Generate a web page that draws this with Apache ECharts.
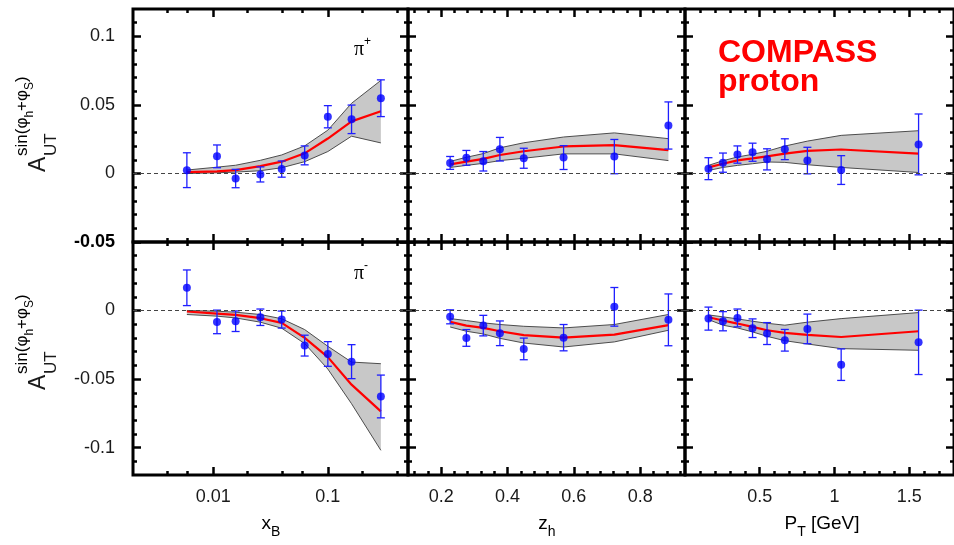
<!DOCTYPE html>
<html>
<head>
<meta charset="utf-8">
<script src="https://cdn.jsdelivr.net/npm/echarts@6/dist/echarts.min.js"></script>
<style>
  html, body { margin: 0; padding: 0; background: #ffffff; }
  #chart { width: 954px; height: 545px; }
</style>
</head>
<body>
<div id="chart"></div>
<script>
// ---- kinematic bins ----
const xB = [0.0059, 0.0108, 0.0157, 0.0258, 0.0396, 0.0628, 0.100, 0.161, 0.290];
const zh = [0.227, 0.276, 0.327, 0.377, 0.449, 0.569, 0.722, 0.885];
const pT = [0.157, 0.254, 0.351, 0.452, 0.549, 0.668, 0.819, 1.045, 1.563];

// ---- pi+ : measured asymmetry, uncertainty, model curve and band ----
const piPlusXB      = [0.0024, 0.0125, -0.0037, -0.0007, 0.0032, 0.0132, 0.0414, 0.0395, 0.0549];
const piPlusXBErr   = [0.0127, 0.0083, 0.0067, 0.0055, 0.0059, 0.0069, 0.0081, 0.0104, 0.0134];
const piPlusXBFit   = [0.0010, 0.0015, 0.0025, 0.0054, 0.0086, 0.0147, 0.0255, 0.0380, 0.0454];
const piPlusXBHi    = [0.0025, 0.0046, 0.0060, 0.0096, 0.0135, 0.0201, 0.0316, 0.0512, 0.0679];
const piPlusXBLo    = [0.0000, 0.0005, 0.0010, 0.0020, 0.0042, 0.0086, 0.0160, 0.0272, 0.0223];

const piPlusZ       = [0.0077, 0.0114, 0.0089, 0.0177, 0.0111, 0.0116, 0.0123, 0.0350];
const piPlusZErr    = [0.0047, 0.0054, 0.0071, 0.0086, 0.0073, 0.0087, 0.0125, 0.0172];
const piPlusZFit    = [0.0066, 0.0086, 0.0106, 0.0135, 0.0162, 0.0197, 0.0207, 0.0170];
const piPlusZHi     = [0.0088, 0.0118, 0.0145, 0.0187, 0.0224, 0.0266, 0.0296, 0.0254];
const piPlusZLo     = [0.0044, 0.0059, 0.0074, 0.0094, 0.0111, 0.0143, 0.0143, 0.0094];

const piPlusPT      = [0.0035, 0.0079, 0.0138, 0.0155, 0.0103, 0.0177, 0.0094, 0.0025, 0.0212];
const piPlusPTErr   = [0.0080, 0.0070, 0.0063, 0.0066, 0.0077, 0.0076, 0.0097, 0.0105, 0.0222];
const piPlusPTFit   = [0.0044, 0.0071, 0.0096, 0.0110, 0.0125, 0.0145, 0.0165, 0.0175, 0.0145];
const piPlusPTHi    = [0.0059, 0.0093, 0.0120, 0.0140, 0.0162, 0.0200, 0.0236, 0.0278, 0.0312];
const piPlusPTLo    = [0.0022, 0.0044, 0.0059, 0.0071, 0.0084, 0.0081, 0.0064, 0.0044, 0.0007];

// ---- pi- ----
const piMinusXB     = [0.0166, -0.0083, -0.0078, -0.0049, -0.0066, -0.0256, -0.0317, -0.0373, -0.0627];
const piMinusXBErr  = [0.0130, 0.0086, 0.0075, 0.0060, 0.0062, 0.0076, 0.0090, 0.0124, 0.0156];
const piMinusXBFit  = [-0.0007, -0.0022, -0.0032, -0.0056, -0.0090, -0.0200, -0.0340, -0.0541, -0.0736];
const piMinusXBHi   = [0.0000, -0.0005, -0.0012, -0.0029, -0.0060, -0.0139, -0.0261, -0.0376, -0.0388];
const piMinusXBLo   = [-0.0029, -0.0041, -0.0054, -0.0085, -0.0129, -0.0241, -0.0427, -0.0680, -0.1020];

const piMinusZ      = [-0.0046, -0.0200, -0.0110, -0.0166, -0.0280, -0.0198, 0.0027, -0.0068];
const piMinusZErr   = [0.0051, 0.0061, 0.0075, 0.0090, 0.0079, 0.0096, 0.0141, 0.0189];
const piMinusZFit   = [-0.0083, -0.0110, -0.0127, -0.0151, -0.0180, -0.0198, -0.0176, -0.0107];
const piMinusZHi    = [-0.0059, -0.0073, -0.0090, -0.0102, -0.0115, -0.0127, -0.0102, -0.0029];
const piMinusZLo    = [-0.0120, -0.0151, -0.0171, -0.0203, -0.0237, -0.0266, -0.0229, -0.0144];

const piMinusPT     = [-0.0059, -0.0078, -0.0054, -0.0129, -0.0168, -0.0217, -0.0134, -0.0395, -0.0232];
const piMinusPTErr  = [0.0084, 0.0070, 0.0065, 0.0068, 0.0080, 0.0079, 0.0108, 0.0115, 0.0235];
const piMinusPTFit  = [-0.0049, -0.0073, -0.0095, -0.0119, -0.0144, -0.0163, -0.0178, -0.0193, -0.0151];
const piMinusPTHi   = [-0.0032, -0.0046, -0.0061, -0.0078, -0.0093, -0.0107, -0.0085, -0.0059, -0.0015];
const piMinusPTLo   = [-0.0066, -0.0107, -0.0127, -0.0156, -0.0188, -0.0220, -0.0244, -0.0278, -0.0290];

// ---- tick positions and labels ----
const xBMajor = [0.01, 0.1];
const xBMinor = [0.004, 0.006, 0.02, 0.04, 0.06, 0.2, 0.4];
const xBLabels = [0.01, 0.1];
const zMajor = [0.2, 0.4, 0.6, 0.8];
const zMinor = [0.12, 0.16, 0.24, 0.28, 0.32, 0.36, 0.44, 0.48, 0.52, 0.56, 0.64, 0.68, 0.72, 0.76, 0.84, 0.88, 0.92];
const zLabels = [0.2, 0.4, 0.6, 0.8];
const pTMajor = [0.5, 1, 1.5];
const pTMinor = [0.1, 0.2, 0.3, 0.4, 0.6, 0.7, 0.8, 0.9, 1.1, 1.2, 1.3, 1.4, 1.6, 1.7];
const pTLabels = [0.5, 1, 1.5];
const yTopMajor = [-0.05, 0, 0.05, 0.1];
const yTopMinor = [-0.04, -0.03, -0.02, -0.01, 0.01, 0.02, 0.03, 0.04, 0.06, 0.07, 0.08, 0.09, 0.11];
const yTopLabels = [0.1, 0.05, 0, -0.05];
const yBotMajor = [-0.1, -0.05, 0, 0.05];
const yBotMinor = [-0.11, -0.09, -0.08, -0.07, -0.06, -0.04, -0.03, -0.02, -0.01, 0.01, 0.02, 0.03, 0.04];
const yBotLabels = [0, -0.05, -0.1];

const FONT = 'Liberation Sans';
const TEXT = '#1a1a1a';

const cols = [
  { left: 133, width: 275, type: 'log',   min: 0.002, max: 0.5,   x: xB, major: xBMajor, minor: xBMinor, labels: xBLabels },
  { left: 408, width: 277, type: 'value', min: 0.1,   max: 0.935, x: zh, major: zMajor,  minor: zMinor,  labels: zLabels },
  { left: 685, width: 278, type: 'value', min: 0,     max: 1.8,   x: pT, major: pTMajor, minor: pTMinor, labels: pTLabels }
];
const rows = [
  { top: 9,   height: 233, min: -0.05, max: 0.12, major: yTopMajor, minor: yTopMinor, labels: yTopLabels },
  { top: 242, height: 233, min: -0.12, max: 0.05, major: yBotMajor, minor: yBotMinor, labels: yBotLabels }
];

const panels = [
  [ [piPlusXB, piPlusXBErr, piPlusXBFit, piPlusXBHi, piPlusXBLo],
    [piPlusZ, piPlusZErr, piPlusZFit, piPlusZHi, piPlusZLo],
    [piPlusPT, piPlusPTErr, piPlusPTFit, piPlusPTHi, piPlusPTLo] ],
  [ [piMinusXB, piMinusXBErr, piMinusXBFit, piMinusXBHi, piMinusXBLo],
    [piMinusZ, piMinusZErr, piMinusZFit, piMinusZHi, piMinusZLo],
    [piMinusPT, piMinusPTErr, piMinusPTFit, piMinusPTHi, piMinusPTLo] ]
];

const grids = [], xAxes = [], yAxes = [], series = [];

function tickAxis(base, position, ticks, len, label) {
  return Object.assign({}, base, {
    position: position,
    axisLine: { show: false, onZero: false },
    splitLine: { show: false },
    minorTick: { show: false },
    axisPointer: { show: false },
    axisTick: { show: true, inside: true, length: len, customValues: ticks,
                lineStyle: { color: '#000', width: 2.5 } },
    axisLabel: label || { show: false }
  });
}

rows.forEach((row, r) => {
  cols.forEach((col, c) => {
    const g = grids.length;
    grids.push({ left: col.left, top: row.top, width: col.width, height: row.height,
                 show: true, borderColor: '#000', borderWidth: 3, backgroundColor: 'transparent' });

    const xBase = { gridIndex: g, type: col.type, min: col.min, max: col.max };
    if (col.type === 'log') xBase.logBase = 10;
    const xLabel = r === 1 ? {
      show: true, customValues: col.labels, margin: 13,
      fontFamily: FONT, fontSize: 18, color: TEXT,
      formatter: v => String(v)
    } : null;
    xAxes.push(tickAxis(xBase, 'bottom', col.major, 8, xLabel));
    xAxes.push(tickAxis(xBase, 'bottom', col.minor, 4));
    xAxes.push(tickAxis(xBase, 'top', col.major, 8));
    xAxes.push(tickAxis(xBase, 'top', col.minor, 4));

    const yBase = { gridIndex: g, type: 'value', min: row.min, max: row.max };
    const yLabel = c === 0 ? {
      show: true, customValues: row.labels, margin: 18,
      fontFamily: FONT, fontSize: 18, color: TEXT,
      formatter: v => (r === 0 && Math.abs(v + 0.05) < 1e-9) ? '{b|-0.05}' : String(v),
      rich: { b: { fontFamily: FONT, fontSize: 18, fontWeight: 'bold', color: '#000' } }
    } : null;
    yAxes.push(tickAxis(yBase, 'left', row.major, 8, yLabel));
    yAxes.push(tickAxis(yBase, 'left', row.minor, 4));
    yAxes.push(tickAxis(yBase, 'right', row.major, 8));
    yAxes.push(tickAxis(yBase, 'right', row.minor, 4));

    const [val, err, fit, hi, lo] = panels[r][c];
    const xs = col.x;
    const ax = { xAxisIndex: 4 * g, yAxisIndex: 4 * g };

    // model uncertainty band
    series.push(Object.assign({
      type: 'custom', silent: true, z: 1,
      data: xs.map((x, i) => [x, lo[i], hi[i]]),
      encode: { x: 0, y: [1, 2] },
      renderItem: (params, api) => {
        if (params.dataIndex !== 0) return null;
        const upper = xs.map((x, i) => api.coord([x, hi[i]]));
        const lower = xs.map((x, i) => api.coord([x, lo[i]])).reverse();
        return { type: 'polygon', shape: { points: upper.concat(lower) },
                 style: { fill: '#c8c8c8' } };
      }
    }, ax));

    // band edges
    series.push(Object.assign({
      type: 'line', silent: true, z: 2, symbol: 'none',
      data: xs.map((x, i) => [x, hi[i]]),
      lineStyle: { color: '#4d4d4d', width: 1 },
      markLine: {
        silent: true, symbol: ['none', 'none'], label: { show: false },
        lineStyle: { color: '#444', width: 1, type: [4, 3] },
        data: [{ yAxis: 0 }]
      }
    }, ax));
    series.push(Object.assign({
      type: 'line', silent: true, z: 2, symbol: 'none',
      data: xs.map((x, i) => [x, lo[i]]),
      lineStyle: { color: '#4d4d4d', width: 1 }
    }, ax));

    // model central curve
    series.push(Object.assign({
      type: 'line', silent: true, z: 3, symbol: 'none',
      data: xs.map((x, i) => [x, fit[i]]),
      lineStyle: { color: '#ff0000', width: 2.2 }
    }, ax));

    // error bars
    series.push(Object.assign({
      type: 'custom', silent: true, z: 4,
      data: xs.map((x, i) => [x, val[i], err[i]]),
      encode: { x: 0, y: 1 },
      renderItem: (params, api) => {
        const x = api.value(0), y = api.value(1), e = api.value(2);
        const t = api.coord([x, y + e]), b = api.coord([x, y - e]);
        const w = 4;
        const st = { stroke: '#1f1fff', lineWidth: 1.3 };
        return { type: 'group', children: [
          { type: 'line', shape: { x1: t[0], y1: t[1], x2: b[0], y2: b[1] }, style: st },
          { type: 'line', shape: { x1: t[0] - w, y1: t[1], x2: t[0] + w, y2: t[1] }, style: st },
          { type: 'line', shape: { x1: b[0] - w, y1: b[1], x2: b[0] + w, y2: b[1] }, style: st }
        ] };
      }
    }, ax));

    // data points
    series.push(Object.assign({
      type: 'scatter', silent: true, z: 5, symbol: 'circle', symbolSize: 8,
      data: xs.map((x, i) => [x, val[i]]),
      itemStyle: { color: '#0000ff' }
    }, ax));
  });
});

// rotated y-axis title: A_UT^{sin(phi_h + phi_S)}
function yTitle(x0, y0) {
  return {
    type: 'group', x: x0, y: y0, rotation: Math.PI / 2, silent: true,
    children: [
      { type: 'text', x: 0, y: 0,
        style: { text: 'A', fontFamily: FONT, fontSize: 23, fill: TEXT, align: 'left', verticalAlign: 'middle' } },
      { type: 'text', x: 16, y: 12,
        style: { text: 'UT', fontFamily: FONT, fontSize: 17, fill: TEXT, align: 'left', verticalAlign: 'middle' } },
      { type: 'text', x: 16, y: -14,
        style: {
          text: '{n|sin(φ}{s|h}{n|+φ}{s|S}{n|)}', align: 'left', verticalAlign: 'middle',
          rich: {
            n: { fontFamily: FONT, fontSize: 17, lineHeight: 22, verticalAlign: 'top', color: TEXT },
            s: { fontFamily: FONT, fontSize: 12, lineHeight: 12, verticalAlign: 'bottom', color: TEXT }
          }
        } }
    ]
  };
}

function subText(main, sub, cx, cy, tail) {
  return {
    type: 'text', x: cx, y: cy, silent: true,
    style: {
      text: '{m|' + main + '}{s|' + sub + '}' + (tail ? '{m|' + tail + '}' : ''),
      align: 'center', verticalAlign: 'middle',
      rich: {
        m: { fontFamily: FONT, fontSize: 19, lineHeight: 30, verticalAlign: 'middle', color: TEXT },
        s: { fontFamily: FONT, fontSize: 14, lineHeight: 14, verticalAlign: 'bottom', color: TEXT }
      }
    }
  };
}

function pionLabel(sign, x, y) {
  return {
    type: 'text', x: x, y: y, silent: true,
    style: {
      text: '{p|π}{s|' + sign + '}', align: 'left', verticalAlign: 'middle',
      rich: {
        p: { fontFamily: 'Liberation Serif', fontSize: 20, lineHeight: 24, verticalAlign: 'bottom', color: '#000' },
        s: { fontFamily: FONT, fontSize: 12, lineHeight: 12, verticalAlign: 'top', color: '#000' }
      }
    }
  };
}

const graphic = [
  yTitle(39, 172),
  yTitle(39, 390),
  subText('x', 'B', 271, 524),
  subText('z', 'h', 547, 524),
  subText('P', 'T', 822, 524, ' [GeV]'),
  pionLabel('+', 354, 48),
  pionLabel('-', 354, 272),
  { type: 'text', x: 718, y: 53.5, silent: true,
    style: { text: 'COMPASS', fontFamily: FONT, fontWeight: 'bold', fontSize: 32, fill: '#ff0000',
             align: 'left', verticalAlign: 'middle' } },
  { type: 'text', x: 718, y: 82.5, silent: true,
    style: { text: 'proton', fontFamily: FONT, fontWeight: 'bold', fontSize: 32, fill: '#ff0000',
             align: 'left', verticalAlign: 'middle' } }
];

const chart = echarts.init(document.getElementById('chart'), null, { renderer: 'canvas' });
chart.setOption({
  animation: false,
  backgroundColor: '#ffffff',
  grid: grids,
  xAxis: xAxes,
  yAxis: yAxes,
  series: series,
  graphic: graphic
});
</script>
</body>
</html>
